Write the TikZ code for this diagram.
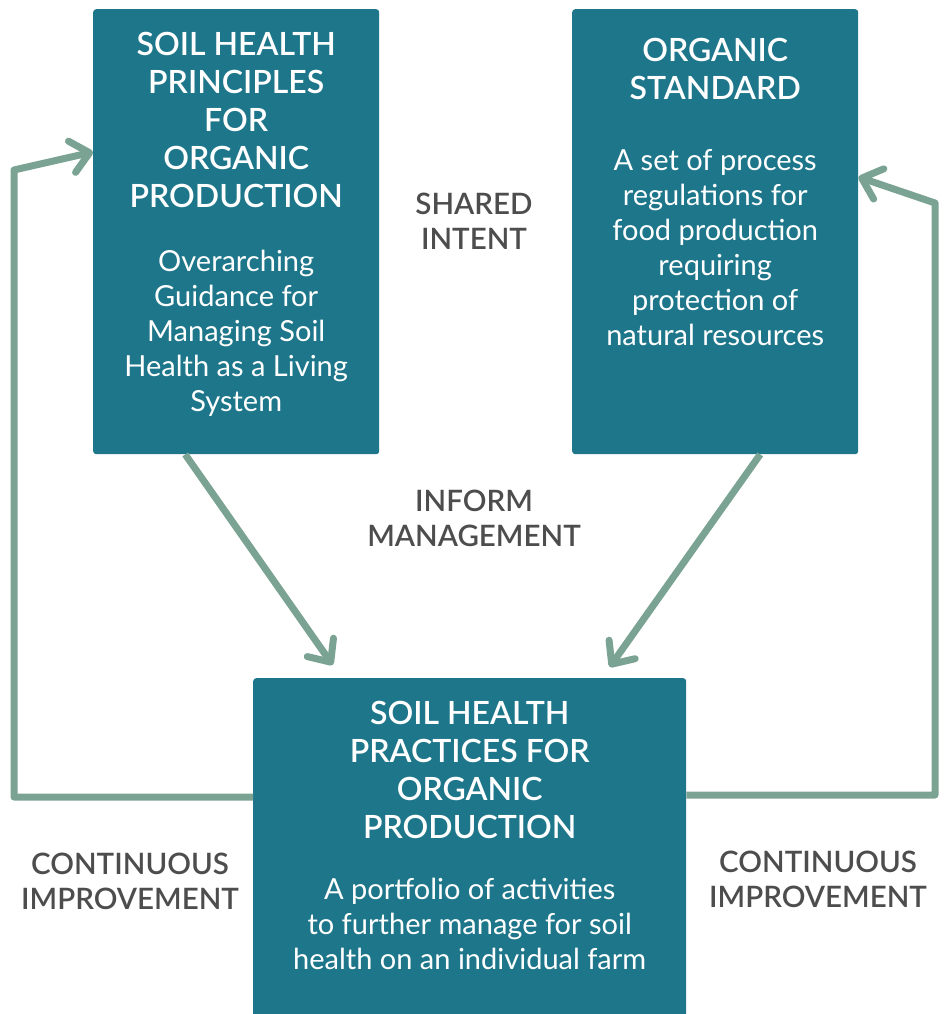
\documentclass[tikz,border=0pt]{standalone}
\usepackage{fontspec}
\setmainfont{Lato}
\newfontfamily\latosemi{Lato Semibold}
\usetikzlibrary{positioning,arrows.meta}

\definecolor{boxteal}{HTML}{1E768A}
\definecolor{loopgreen}{HTML}{7BA393}
\definecolor{labelgray}{HTML}{4D4D4D}

\tikzset{
	panel/.style={fill=boxteal, rounded corners=3pt, inner sep=0pt, anchor=north west},
	heading/.style={text=white, align=center, inner sep=0pt, font=\latosemi\fontsize{32}{38}\selectfont},
	blurb/.style={text=white, align=center, inner sep=0pt, font=\fontsize{29}{35}\selectfont},
	sidenote/.style={text=labelgray, align=center, inner sep=0pt, font=\latosemi\fontsize{29.5}{35}\selectfont},
	flow/.style={draw=loopgreen, line width=7pt, line join=round, -{Straight Barb[length=18pt,width=32pt,round]}},
}

\begin{document}
\begin{tikzpicture}[x=1pt,y=-1pt]
	\useasboundingbox (0,0) rectangle (944,1014);
	
	% boxes
	\node[panel, minimum width=286pt, minimum height=445pt] (principles) at (93,9) {};
	\node[panel, minimum width=286pt, minimum height=445pt] (standard) at (572,9) {};
	\node[panel, minimum width=433pt, minimum height=345pt] (practices) at (253,678) {};
	
	% box texts
	\node[heading, below=23pt of principles.north] (principles title) {SOIL HEALTH\\PRINCIPLES\\FOR\\ORGANIC\\PRODUCTION};
	\node[blurb, below=241pt of principles.north] (principles text) {Overarching\\Guidance for\\Managing Soil\\Health as a Living\\System};
	\node[heading, below=29pt of standard.north] (standard title) {ORGANIC\\STANDARD};
	\node[blurb, below=140pt of standard.north] (standard text) {A set of process\\regulations for\\food production\\requiring\\protection of\\natural resources};
	\node[heading, below=23pt of practices.north] (practices title) {SOIL HEALTH\\PRACTICES FOR\\ORGANIC\\PRODUCTION};
	\node[blurb, below=200pt of practices.north] (practices text) {A portfolio of activities\\to further manage for soil\\health on an individual farm};
	
	% labels between the boxes
	\node[sidenote] (shared) at (474,221) {SHARED\\INTENT};
	\node[sidenote] (inform) at (474,518) {INFORM\\MANAGEMENT};
	\node[sidenote] (improve left) at (130,881) {CONTINUOUS\\IMPROVEMENT};
	\node[sidenote] (improve right) at (818,879) {CONTINUOUS\\IMPROVEMENT};
	
	% principles and standard -> practices
	\draw[flow] ([xshift=-51pt]principles.south) -- ([xshift=-137pt,yshift=13pt]practices.north);
	\draw[flow] ([xshift=45pt]standard.south) -- ([xshift=140pt,yshift=11pt]practices.north);
	
	% feedback loops
	\coordinate (left bottom) at (14,797);
	\coordinate (left top) at (14,170);
	\draw[flow] (practices.west |- left bottom) -- (left bottom) -- (left top) -- ([yshift=-143pt]principles.north west);
	\coordinate (right bottom) at (935,795);
	\coordinate (right top) at (935,203);
	\draw[flow] (practices.east |- right bottom) -- (right bottom) -- (right top) -- ([yshift=-168pt]standard.north east);
\end{tikzpicture}
\end{document}
